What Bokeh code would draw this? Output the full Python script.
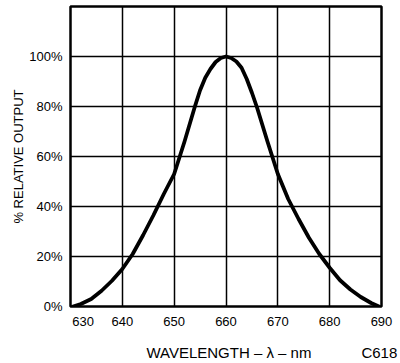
from bokeh.plotting import figure
from bokeh.models import FixedTicker
from bokeh.embed import file_html
from bokeh.resources import INLINE

wavelength = [630.5, 632, 634, 636, 638, 640, 642, 644, 646, 648, 650, 652, 654, 655, 656, 657, 658, 659, 660,
              661, 662, 663, 664, 665, 666, 668, 670, 672, 674, 676, 678, 680, 682, 684, 686, 688, 689.5]
rel_output = [0, 1.0, 3, 6.3, 10.3, 15, 21, 28.5, 36.5, 45, 53, 66, 80, 86.5, 91.5, 95, 97.8, 99.4, 100,
              99.4, 98, 95.5, 91, 85.5, 79.5, 66, 53, 43, 35, 27.5, 21, 15.5, 10.5, 6.8, 3.8, 1.4, 0]
x_ticks = [630, 640, 650, 660, 670, 680, 690]
x_tick_labels = {630: "\u00a0" * 7 + "630"}
y_ticks = [0, 20, 40, 60, 80, 100]
y_tick_labels = {0: "0%", 20: "20%", 40: "40%", 60: "60%", 80: "80%", 100: "100%"}
x_title = "WAVELENGTH \u2013 \u03bb \u2013 nm"
y_title = "% RELATIVE OUTPUT"
code_text = "C618"

FONT = "Liberation Sans"
NB = "\u00a0"

p = figure(width=400, height=363, x_range=(630, 690), y_range=(0, 120),
           output_backend="svg", toolbar_location=None,
           min_border_left=70, min_border_right=19, min_border_top=6, min_border_bottom=53)

p.outline_line_color = "black"
p.outline_line_width = 2.5
p.background_fill_color = "white"
p.border_fill_color = "white"

p.xaxis.ticker = FixedTicker(ticks=x_ticks)
p.xaxis.major_label_overrides = x_tick_labels
p.yaxis.ticker = FixedTicker(ticks=y_ticks)
p.yaxis.major_label_overrides = y_tick_labels

for ax in (p.xaxis[0], p.yaxis[0]):
    ax.axis_line_color = None
    ax.major_tick_line_color = None
    ax.minor_tick_line_color = None
    ax.major_tick_out = 0
    ax.major_tick_in = 0
    ax.major_label_text_font = FONT
    ax.major_label_text_font_size = "13px"
    ax.major_label_text_color = "black"
    ax.axis_label_text_font = FONT
    ax.axis_label_text_font_style = "normal"
    ax.axis_label_text_color = "black"

p.xaxis.major_label_standoff = 7
p.yaxis.major_label_standoff = 8
# x title and the figure code share the line under the axis
p.xaxis.axis_label = NB * 22 + x_title + NB * 12 + code_text
p.xaxis.axis_label_text_font_size = "15px"
p.xaxis.axis_label_standoff = 12
p.yaxis.axis_label = y_title
p.yaxis.axis_label_text_font_size = "13px"
p.yaxis.axis_label_standoff = 0

p.xgrid.grid_line_color = "black"
p.ygrid.grid_line_color = "black"
p.xgrid.grid_line_width = 1.5
p.ygrid.grid_line_width = 1.5
p.xgrid.grid_line_alpha = 1
p.ygrid.grid_line_alpha = 1

p.line(wavelength, rel_output, line_color="black", line_width=3.8,
       line_join="round", line_cap="round")

open("out.html", "w").write(file_html(p, INLINE))
